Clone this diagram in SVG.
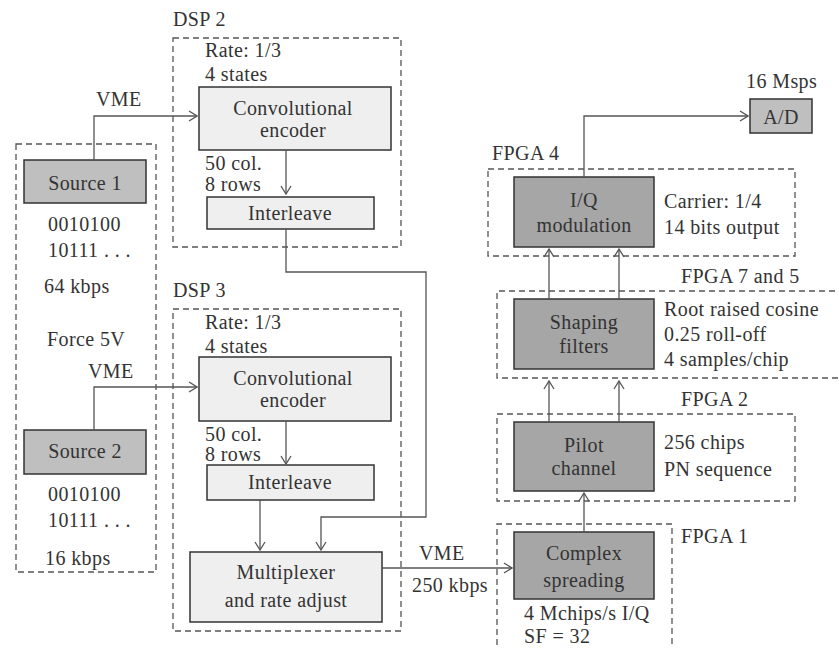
<svg xmlns="http://www.w3.org/2000/svg" width="839" height="648" viewBox="0 0 839 648" font-family="'Liberation Serif', 'DejaVu Serif', 'Times New Roman', serif">
<defs>
<marker id="arr" viewBox="0 0 10 12" refX="9" refY="6" markerWidth="10" markerHeight="12" markerUnits="userSpaceOnUse" orient="auto">
<path d="M1,1 L9,6 L1,11" fill="none" stroke="#555" stroke-width="1.3"/>
</marker>
</defs>
<style>
text{font-family:'Liberation Serif','DejaVu Serif','Times New Roman',serif;font-size:20px;letter-spacing:0.4px;fill:#333}
.c{text-anchor:middle}
.dash{fill:none;stroke:#555;stroke-width:1.3;stroke-dasharray:6,4}
.light{fill:#efefef;stroke:#333;stroke-width:1.5}
.mid{fill:#bfbfbf;stroke:#333;stroke-width:1.5}
.dark{fill:#a6a6a6;stroke:#333;stroke-width:1.5}
.ln{fill:none;stroke:#555;stroke-width:1.3}
</style>
<rect width="839" height="648" fill="#fff"/>

<g id="groups">
<rect class="dash" x="16" y="144" width="140" height="428"/>
<text x="173" y="26">DSP 2</text>
<rect class="dash" x="173" y="38" width="228" height="209"/>
<text x="173" y="297">DSP 3</text>
<rect class="dash" x="173" y="309" width="228" height="322"/>
<text x="492" y="160">FPGA 4</text>
<rect class="dash" x="488" y="169" width="307" height="87"/>
<text x="681" y="283">FPGA 7 and 5</text>
<path class="dash" d="M845,291 H497 V378 H845"/>
<text x="681" y="406">FPGA 2</text>
<rect class="dash" x="497" y="414" width="298" height="87"/>
<text x="681" y="543">FPGA 1</text>
<path class="dash" d="M497,655 V524 H672 V655"/>
</g>

<g id="source1">
<rect class="mid" x="24" y="160" width="122" height="43"/>
<text class="c" x="85" y="190">Source 1</text>
<text x="48" y="231">0010100</text>
<text x="48" y="257">10111 . . .</text>
<text x="44" y="293">64 kbps</text>
</g>
<g id="source2">
<text x="47" y="346">Force 5V</text>
<rect class="mid" x="24" y="430" width="122" height="44"/>
<text class="c" x="85" y="458">Source 2</text>
<text x="48" y="501">0010100</text>
<text x="48" y="527">10111 . . .</text>
<text x="45" y="565">16 kbps</text>
</g>

<g id="conv1">
<text x="205" y="57">Rate: 1/3</text>
<text x="205" y="81">4 states</text>
<rect class="light" x="199" y="87" width="192" height="63"/>
<text class="c" x="293" y="115">Convolutional</text>
<text class="c" x="293" y="137">encoder</text>
<text x="205" y="170">50 col.</text>
<text x="205" y="191">8 rows</text>
</g>
<g id="interleave1">
<rect class="light" x="207" y="197" width="167" height="32"/>
<text class="c" x="290" y="220">Interleave</text>
</g>

<g id="conv2">
<text x="205" y="329">Rate: 1/3</text>
<text x="205" y="353">4 states</text>
<rect class="light" x="199" y="357" width="192" height="64"/>
<text class="c" x="293" y="385">Convolutional</text>
<text class="c" x="293" y="407">encoder</text>
<text x="205" y="441">50 col.</text>
<text x="205" y="461">8 rows</text>
</g>
<g id="interleave2">
<rect class="light" x="207" y="465" width="167" height="35"/>
<text class="c" x="290" y="489">Interleave</text>
</g>
<g id="multiplexer">
<rect class="light" x="190" y="552" width="192" height="70"/>
<text class="c" x="286" y="579">Multiplexer</text>
<text class="c" x="286" y="607">and rate adjust</text>
</g>

<g id="complex">
<rect class="dark" x="514" y="532" width="140" height="67"/>
<text class="c" x="584" y="560">Complex</text>
<text class="c" x="584" y="587">spreading</text>
<text x="524" y="620">4 Mchips/s I/Q</text>
<text x="524" y="643">SF = 32</text>
</g>
<g id="pilot">
<rect class="dark" x="514" y="422" width="140" height="69"/>
<text class="c" x="584" y="452">Pilot</text>
<text class="c" x="584" y="475">channel</text>
<text x="664" y="449">256 chips</text>
<text x="664" y="476">PN sequence</text>
</g>
<g id="shaping">
<rect class="dark" x="514" y="299" width="140" height="70"/>
<text class="c" x="584" y="329">Shaping</text>
<text class="c" x="584" y="353">filters</text>
<text x="664" y="316">Root raised cosine</text>
<text x="664" y="341">0.25 roll-off</text>
<text x="664" y="366">4 samples/chip</text>
</g>
<g id="iq">
<rect class="dark" x="514" y="177" width="140" height="70"/>
<text class="c" x="584" y="207">I/Q</text>
<text class="c" x="584" y="232">modulation</text>
<text x="664" y="208">Carrier: 1/4</text>
<text x="664" y="234">14 bits output</text>
</g>
<g id="ad">
<text x="746" y="88">16 Msps</text>
<rect class="mid" x="750" y="99" width="62" height="34"/>
<text class="c" x="781" y="124">A/D</text>
</g>

<g id="connectors">
<text x="96" y="106">VME</text>
<path class="ln" d="M94,160 V116 H197" marker-end="url(#arr)"/>
<text x="88" y="378">VME</text>
<path class="ln" d="M94,430 V387 H197" marker-end="url(#arr)"/>
<path class="ln" d="M286,150 V194" marker-end="url(#arr)"/>
<path class="ln" d="M286,421 V464" marker-end="url(#arr)"/>
<path class="ln" d="M286,229 V272 H426 V517 H321 V550" marker-end="url(#arr)"/>
<path class="ln" d="M260,500 V550" marker-end="url(#arr)"/>
<text x="419" y="560">VME</text>
<text x="412" y="592">250 kbps</text>
<path class="ln" d="M382,568 H512" marker-end="url(#arr)"/>
<path class="ln" d="M584,532 V493" marker-end="url(#arr)"/>
<path class="ln" d="M549,422 V381" marker-end="url(#arr)"/>
<path class="ln" d="M619,422 V381" marker-end="url(#arr)"/>
<path class="ln" d="M549,299 V249" marker-end="url(#arr)"/>
<path class="ln" d="M619,299 V249" marker-end="url(#arr)"/>
<path class="ln" d="M584,177 V116 H748" marker-end="url(#arr)"/>
</g>
</svg>
